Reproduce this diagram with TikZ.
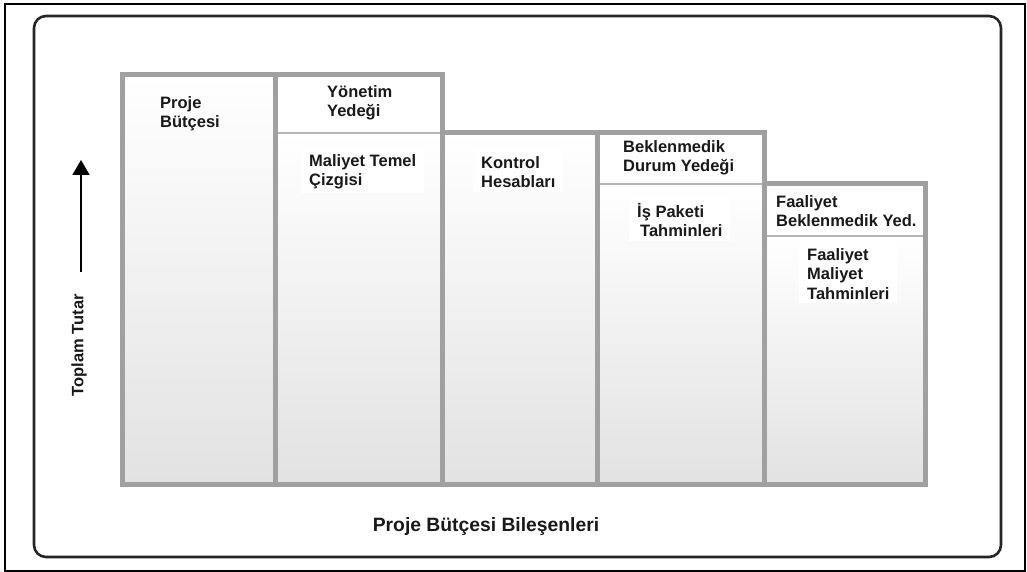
\documentclass[tikz,border=0pt]{standalone}
\usepackage{fontspec}
\setmainfont{Liberation Sans}
\usetikzlibrary{arrows.meta}
\definecolor{barline}{RGB}{160,160,160}
\definecolor{divline}{RGB}{182,182,182}
\definecolor{barbottom}{RGB}{226,226,226}
\newcommand{\firstline}{\rule{0pt}{16pt}}
\begin{document}
\begin{tikzpicture}[x=1pt,y=-1pt,
  lbl/.style={anchor=north west, inner sep=0pt, align=left,
    font=\fontsize{16.5}{19.5}\selectfont\bfseries, text=black!90},
  lblbg/.style={lbl, fill=white, inner xsep=8pt, inner ysep=4pt,
    xshift=-8pt, yshift=4pt},
  grad/.style={top color=white, bottom color=barbottom, draw=none},
  border/.style={draw=barline, line width=5pt, line join=miter},
  divider/.style={draw=divline, line width=2pt},
  frame/.style={draw=black, line width=1.2pt},
  panel/.style={draw=black!85, line width=2.6pt, rounded corners=12pt}]
\useasboundingbox (0,0) rectangle (1027,572);

% outer frame and rounded panel
\draw[frame] (5,4) rectangle (1025,571);
\draw[panel] (34,16) rectangle (1001,557);

% bar fills: reserve parts white, estimate parts shaded
\shade[grad] (122,74.5) rectangle (275.5,484.5);
\fill[white] (275.5,74.5) rectangle (442.5,133);
\shade[grad] (275.5,133) rectangle (442.5,484.5);
\shade[grad] (442.5,132.5) rectangle (597.5,484.5);
\fill[white] (597.5,132.5) rectangle (764.5,184);
\shade[grad] (597.5,184) rectangle (764.5,484.5);
\fill[white] (764.5,183.5) rectangle (925.5,236);
\shade[grad] (764.5,236) rectangle (925.5,484.5);

% thin dividers between reserve and estimate parts
\draw[divider] (275.5,133) -- (442.5,133);
\draw[divider] (597.5,184) -- (764.5,184);
\draw[divider] (764.5,236) -- (925.5,236);

% staircase outline and bar separators
\draw[border] (122,484.5) -- (122,74.5) -- (442.5,74.5) -- (442.5,132.5)
  -- (764.5,132.5) -- (764.5,183.5) -- (925.5,183.5) -- (925.5,484.5) -- cycle;
\draw[border] (275.5,74.5) -- (275.5,484.5);
\draw[border] (442.5,132.5) -- (442.5,484.5);
\draw[border] (597.5,132.5) -- (597.5,484.5);
\draw[border] (764.5,183.5) -- (764.5,484.5);

% labels
\node[lbl] (pb) at (160,92) {\firstline Proje\\Bütçesi};
\node[lbl] (yy) at (327,81) {\firstline Yönetim\\Yedeği};
\node[lblbg] (mtc) at (309,150) {\firstline Maliyet Temel\\Çizgisi};
\node[lblbg] (kh) at (481,152) {\firstline Kontrol\\Hesabları};
\node[lbl] (bdy) at (623,136) {\firstline Beklenmedik\\Durum Yedeği};
\node[lblbg] (ipt) at (637,201) {\firstline İş Paketi\\\hspace*{3pt}Tahminleri};
\node[lbl] (fby) at (776,191) {\firstline Faaliyet\\Beklenmedik Yed.};
\node[lblbg] (fmt) at (807,244) {\firstline Faaliyet\\Maliyet\\Tahminleri};

% vertical axis
\coordinate (axbot) at (81,272);
\coordinate (axtop) at (81,160);
\draw[line width=2pt, -{Triangle[length=15pt,width=17pt]}] (axbot) -- (axtop);
\node[rotate=90, inner sep=0pt, font=\fontsize{16.5}{19.5}\selectfont\bfseries,
  text=black!90] (tt) at (79,345) {Toplam Tutar};

% caption
\node[anchor=base, inner sep=0pt, font=\fontsize{19.3}{23}\selectfont\bfseries,
  text=black!90] (title) at (486,531) {Proje Bütçesi Bileşenleri};
\end{tikzpicture}
\end{document}
